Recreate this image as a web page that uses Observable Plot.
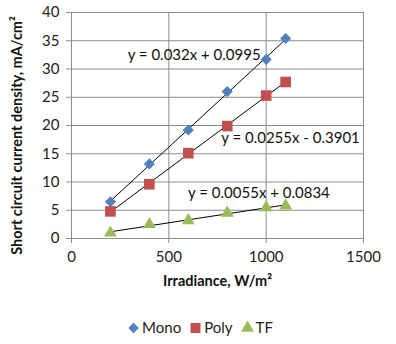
<!DOCTYPE html>
<html><head><meta charset="utf-8">
<script src="https://cdn.jsdelivr.net/npm/d3@7"></script>
<script src="https://cdn.jsdelivr.net/npm/@observablehq/plot@0.6"></script>
<style>
body{margin:0;background:#fff;font-family:Lato,"Open Sans",sans-serif;}
#legend{width:396px;height:34px;display:flex;justify-content:center;align-items:center;gap:0;font-size:15px;color:#222;padding-left:4px;box-sizing:border-box}
#legend .item{display:flex;align-items:center;margin:0 4px}
#legend svg{margin-right:2px}
</style>
</head><body><div id="chart"></div><div id="legend"></div>
<script>
const irradiance = [200, 400, 600, 800, 1000, 1100];
const mono = [6.5, 13.2, 19.2, 26.0, 31.7, 35.4];
const poly = [4.8, 9.6, 15.1, 19.9, 25.3, 27.7];
const tf = [1.0, 2.5, 3.2, 4.5, 5.5, 5.8];
const seriesNames = ["Mono", "Poly", "TF"];
const seriesColors = ["#4F81BD", "#C0504D", "#9BBB59"];
const seriesSymbols = ["diamond2", "square", "triangle"];
const equations = ["y = 0.032x + 0.0995", "y = 0.0255x - 0.3901", "y = 0.0055x + 0.0834"];
const eqX = [630, 1125, 963];
const eqY = [32.4, 17.7, 8.0];
const xTicks = [0, 500, 1000, 1500];
const yTicks = [0, 5, 10, 15, 20, 25, 30, 35, 40];
const xTitle = "Irradiance, W/m²";
const yTitle = "Short circuit current density, mA/cm²";

const seriesValues = [mono, poly, tf];
const rows = seriesNames.map((name, s) => irradiance.map((x, i) => ({series: name, x, y: seriesValues[s][i]})));
const radii = [5, 6, 4.8];
const grid = "#8c8c8c";

const plot = Plot.plot({
  width: 396,
  height: 310,
  marginTop: 12,
  marginBottom: 72,
  marginLeft: 71,
  marginRight: 33,
  style: {fontFamily: "Lato, 'Open Sans', sans-serif", fontSize: "15px", color: "#222", background: "#fff"},
  x: {domain: [0, 1500], ticks: xTicks, label: null},
  y: {domain: [0, 40], ticks: yTicks, label: null},
  marks: [
    Plot.gridX(xTicks, {stroke: grid, strokeOpacity: 1}),
    Plot.gridY(yTicks, {stroke: grid, strokeOpacity: 1}),
    Plot.ruleX([0], {stroke: grid}),
    Plot.ruleY([0], {stroke: grid}),
    Plot.axisX({ticks: xTicks, tickFormat: d3.format("d"), tickSize: 5, stroke: grid, tickPadding: 8, label: null, fontSize: 15}),
    Plot.axisY({ticks: yTicks, tickFormat: d3.format("d"), tickSize: 5, stroke: grid, tickPadding: 7, label: null, fontSize: 15}),
    ...rows.map((r, s) => Plot.linearRegressionY(r, {x: "x", y: "y", ci: 0, stroke: "black", strokeWidth: 1})),
    ...rows.map((r, s) => Plot.dot(r, {x: "x", y: "y", symbol: seriesSymbols[s], fill: seriesColors[s], stroke: "none", r: radii[s]})),
    Plot.text(equations, {x: (d, i) => eqX[i], y: (d, i) => eqY[i], text: d => d, fontSize: 15, fill: "#111"}),
    Plot.text([xTitle], {frameAnchor: "bottom", dy: 47, text: d => d, fontWeight: "bold", fontSize: 14.5, fill: "#111"}),
    Plot.text([yTitle], {frameAnchor: "left", textAnchor: "middle", rotate: -90, dx: -54, dy: 10, text: d => d, fontWeight: "bold", fontSize: 14.5, fill: "#111"})
  ]
});
document.getElementById("chart").appendChild(plot);

const legend = d3.select("#legend");
seriesNames.forEach((name, s) => {
  const item = legend.append("div").attr("class", "item");
  const svg = item.append("svg").attr("width", 13).attr("height", 13);
  const sym = [d3.symbolDiamond2, d3.symbolSquare, d3.symbolTriangle][s];
  const size = [70, 100, 75][s];
  svg.append("path").attr("transform", "translate(6.5,7)").attr("d", d3.symbol(sym, size)()).attr("fill", seriesColors[s]);
  item.append("span").text(name);
});
</script>
</body></html>
